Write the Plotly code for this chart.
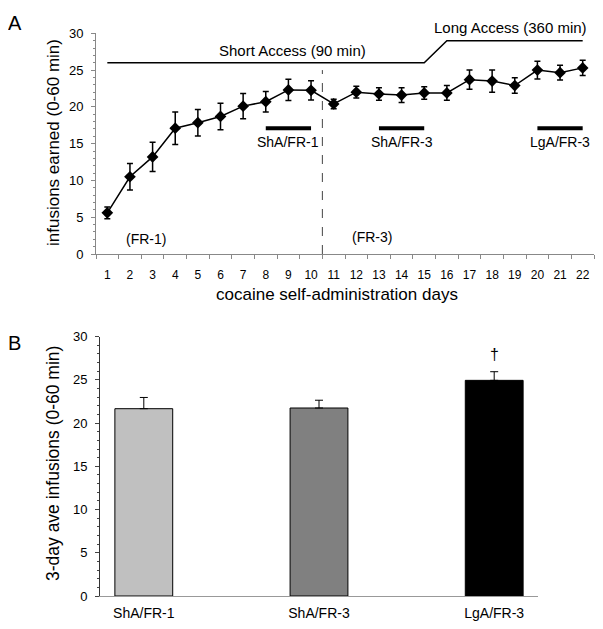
import plotly.graph_objects as go

# ---- Panel A data ----
days = list(range(1, 23))
infusions = [5.6, 10.5, 13.2, 17.1, 17.85, 18.7, 20.1, 20.7, 22.3, 22.25,
             20.4, 22.0, 21.75, 21.6, 21.9, 21.9, 23.7, 23.5, 22.9, 25.0, 24.65, 25.3]
infusions_err = [0.8, 1.8, 2.0, 2.2, 1.8, 1.8, 1.7, 1.4, 1.45, 1.3,
                 0.65, 0.8, 0.85, 1.0, 0.85, 1.0, 1.3, 1.5, 1.05, 1.2, 1.0, 1.05]
access_x = [1, 15, 16, 22]
access_y = [26, 26, 29, 29]
phase_bars = {"ShA/FR-1": (8, 10), "ShA/FR-3": (13, 15), "LgA/FR-3": (20, 22)}
phase_bar_y = 17.1
fr_switch_day = 10.5

# ---- Panel B data ----
groups = ["ShA/FR-1", "ShA/FR-3", "LgA/FR-3"]
group_means = [21.67, 21.75, 24.95]
group_err = [1.3, 0.9, 1.0]
group_colors = ["#c0c0c0", "#808080", "#000000"]

FONT = "Liberation Sans, Arial, sans-serif"
W, H = 603, 629
OFF = 8  # page body margin


def px(x):
    return (x - OFF) / W


def py(y):
    return 1 - (y - OFF) / H


fig = go.Figure()

fig.add_trace(go.Scatter(x=access_x, y=access_y, mode="lines",
                         line=dict(color="black", width=1.5),
                         xaxis="x", yaxis="y", showlegend=False, hoverinfo="skip"))
for name, (a, b) in phase_bars.items():
    fig.add_trace(go.Scatter(x=[a, b], y=[phase_bar_y, phase_bar_y], mode="lines",
                             line=dict(color="black", width=4),
                             xaxis="x", yaxis="y", showlegend=False, hoverinfo="skip"))
fig.add_trace(go.Scatter(x=[fr_switch_day, fr_switch_day], y=[0, 25], mode="lines",
                         line=dict(color="#444", width=1, dash="dash"),
                         xaxis="x", yaxis="y", showlegend=False, hoverinfo="skip"))
fig.add_trace(go.Scatter(x=days, y=infusions, mode="lines+markers",
                         line=dict(color="black", width=1.5),
                         marker=dict(symbol="diamond", size=9, color="black"),
                         error_y=dict(type="data", array=infusions_err, color="black",
                                      thickness=1.5, width=3),
                         xaxis="x", yaxis="y", showlegend=False))

fig.add_trace(go.Bar(x=[0, 1, 2], y=group_means, width=0.33,
                     marker=dict(color=group_colors, line=dict(color="black", width=1)),
                     error_y=dict(type="data", array=group_err, arrayminus=[0, 0, 0],
                                  symmetric=False, color="black", thickness=1, width=4),
                     xaxis="x2", yaxis="y2", showlegend=False))

annotations = [
    dict(text="A", x=px(6), y=py(10), xref="paper", yref="paper", showarrow=False,
         font=dict(size=20, family=FONT), xanchor="left", yanchor="top"),
    dict(text="B", x=px(6), y=py(330), xref="paper", yref="paper", showarrow=False,
         font=dict(size=20, family=FONT), xanchor="left", yanchor="top"),
    dict(text="infusions earned (0-60 min)", x=px(53), y=py(142), xref="paper", yref="paper",
         textangle=-90, showarrow=False, font=dict(size=17, family=FONT),
         xanchor="center", yanchor="middle"),
    dict(text="cocaine self-administration days", x=px(337), y=py(294), xref="paper",
         yref="paper", showarrow=False, font=dict(size=17, family=FONT),
         xanchor="center", yanchor="middle"),
    dict(text="3-day ave infusions (0-60 min)", x=px(53), y=py(464), xref="paper",
         yref="paper", textangle=-90, showarrow=False, font=dict(size=17.5, family=FONT),
         xanchor="center", yanchor="middle"),
    dict(text="Short Access (90 min)", x=9.2, y=26.3, xref="x", yref="y", showarrow=False,
         yanchor="bottom", font=dict(size=15, family=FONT)),
    dict(text="Long Access (360 min)", x=18.8, y=29.3, xref="x", yref="y", showarrow=False,
         yanchor="bottom", font=dict(size=15, family=FONT)),
    dict(text="(FR-1)", x=2.7, y=2.0, xref="x", yref="y", showarrow=False,
         font=dict(size=14, family=FONT)),
    dict(text="(FR-3)", x=12.7, y=2.3, xref="x", yref="y", showarrow=False,
         font=dict(size=14, family=FONT)),
    dict(text="†", x=2, y=27.9, xref="x2", yref="y2", showarrow=False, yanchor="middle",
         font=dict(size=16, family=FONT)),
]
for name, (a, b) in phase_bars.items():
    annotations.append(dict(text=name, x=(a + b) / 2, y=phase_bar_y - 0.5, xref="x", yref="y",
                            showarrow=False, yanchor="top", font=dict(size=14, family=FONT)))

top_dom_x = [px(96), px(594)]
top_dom_y = [py(254), py(33.3)]
bot_dom_x = [px(100), px(538)]
bot_dom_y = [py(596), py(336.7)]
yt = [0, 5, 10, 15, 20, 25, 30]

fig.update_layout(
    width=W, height=H,
    margin=dict(l=0, r=0, t=0, b=0),
    paper_bgcolor="white", plot_bgcolor="white",
    font=dict(family=FONT, color="black"),
    annotations=annotations,
    xaxis=dict(domain=top_dom_x, range=[0.5, 22.5], anchor="y", automargin=False,
               tickmode="array", tickvals=days, ticks="", showgrid=False, zeroline=False,
               showline=True, linecolor="#888", linewidth=1,
               tickfont=dict(size=12), ticklabelstandoff=10,
               minor=dict(tickmode="array", tickvals=[d + 0.5 for d in range(0, 23)],
                          ticks="outside", ticklen=4, tickcolor="#888")),
    yaxis=dict(domain=top_dom_y, range=[0, 30], anchor="x", automargin=False,
               tickvals=yt, ticks="outside", ticklen=4,
               tickcolor="#888", showgrid=False, zeroline=False,
               showline=True, linecolor="#888", linewidth=1, tickfont=dict(size=13),
               ticklabelstandoff=5,
               minor=dict(dtick=1, ticks="outside", ticklen=2, tickcolor="#888")),
    yaxis3=dict(domain=top_dom_y, range=[0, 30], anchor="x", overlaying="y",
                automargin=False, tickvals=yt, ticks="inside", ticklen=3,
                tickcolor="#888", showticklabels=False, showgrid=False, zeroline=False,
                minor=dict(dtick=1, ticks="inside", ticklen=2, tickcolor="#888")),
    xaxis2=dict(domain=bot_dom_x, range=[-0.25, 2.25], anchor="y2", automargin=False,
                tickmode="array", tickvals=[0, 1, 2], ticktext=groups, ticks="",
                showgrid=False, zeroline=False, showline=True, linecolor="#999",
                linewidth=1, tickfont=dict(size=14), ticklabelstandoff=4),
    yaxis2=dict(domain=bot_dom_y, range=[0, 30], anchor="x2", automargin=False,
                tickvals=yt, ticks="outside", ticklen=4,
                tickcolor="#444", showgrid=False, zeroline=False,
                showline=True, linecolor="#333", linewidth=1, tickfont=dict(size=13),
                ticklabelstandoff=5,
                minor=dict(dtick=1, ticks="outside", ticklen=2, tickcolor="#444")),
    yaxis4=dict(domain=bot_dom_y, range=[0, 30], anchor="x2", overlaying="y2",
                automargin=False, tickvals=yt, ticks="inside", ticklen=3,
                tickcolor="#444", showticklabels=False, showgrid=False, zeroline=False,
                minor=dict(dtick=1, ticks="inside", ticklen=2, tickcolor="#444")),
)

fig.write_html("out.html")
